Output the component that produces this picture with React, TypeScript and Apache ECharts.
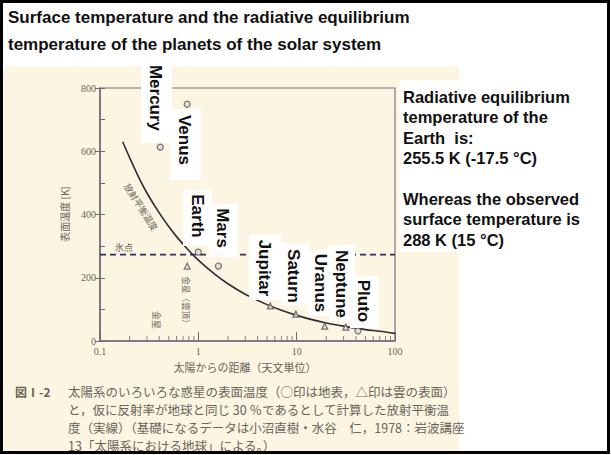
import React, { useEffect, useRef } from "react";
import * as echarts from "echarts";

// ---- data ----
const titleLines = [
  "Surface temperature and the radiative equilibrium",
  "temperature of the planets of the solar system",
];
const noteLines = [
  "Radiative equilibrium",
  "temperature of the",
  "Earth  is:",
  "255.5 K (-17.5 \u00B0C)",
  "",
  "Whereas the observed",
  "surface temperature is",
  "288 K (15 \u00B0C)",
];
const planetNames = ["Mercury", "Venus", "Earth", "Mars", "Jupitar", "Saturn", "Uranus", "Neptune", "Pluto"];

// radiative equilibrium temperature curve (distance AU, K)
const curveDist = [0.17, 0.2, 0.25, 0.3, 0.4, 0.5, 0.6, 0.8, 1, 1.5, 2, 3, 5, 7, 10, 15, 20, 30, 50, 70, 100];
const curveTemp = [630, 580, 515, 468, 405, 362, 330, 286, 256, 209, 181, 148, 115, 97, 81, 66, 57, 47, 36, 31, 24];

// surface temperature (circles)
const surfaceDist = [0.41, 0.77, 1.0, 1.6, 42];
const surfaceTemp = [613, 749, 281, 237, 32];
// cloud top temperature (triangles)
const cloudDist = [0.77, 5.4, 9.8, 19.3, 31.6];
const cloudTemp = [237, 111, 85, 47, 44];

const freezingTemp = 273;
const xRange = [0.1, 100];
const yTicks = [0, 200, 400, 600, 800];
const minorXTicks = [0.2, 0.3, 0.4, 0.5, 0.6, 0.7, 0.8, 0.9, 2, 3, 4, 5, 6, 7, 8, 9, 20, 30, 40, 50, 60, 70, 80, 90];

const yAxisName = "表面温度 [K]";
const xAxisName = "太陽からの距離（天文単位）";
const curveLabel = "放射平衡温度";
const freezeLabel = "氷点";
const venusCloudLabel = "金星（雲頂）";
const venusLabel = "金星";
const figNo = "図Ⅰ-2";
const captionLines = [
  "太陽系のいろいろな惑星の表面温度（○印は地表，△印は雲の表面）",
  "と，仮に反射率が地球と同じ 30 ％であるとして計算した放射平衡温",
  "度（実線）（基礎になるデータは小沼直樹・水谷　仁，1978：岩波講座",
  "13「太陽系における地球」による。）",
];

// ---- layout (not data) ----
const planetLayout = [
  { cx: 155, cy: 98, box: [141, 57, 31, 86] },
  { cx: 184, cy: 140, box: [170, 109, 31, 71] },
  { cx: 197, cy: 216, box: [183, 190, 29, 56] },
  { cx: 222, cy: 228, box: [209, 204, 29, 53] },
  { cx: 264, cy: 268, box: [249, 235, 32, 65] },
  { cx: 293, cy: 276, box: [281, 243, 28, 62] },
  { cx: 320, cy: 283, box: [308, 250, 24, 66] },
  { cx: 341, cy: 284, box: [329, 245, 26, 76] },
  { cx: 363, cy: 301, box: [350, 276, 28, 52] },
];

const SANS = "'Liberation Sans', Arial, sans-serif";
const JP = "'Noto Sans CJK JP', sans-serif";
const SCAN = "#6b645a";

export default function App() {
  const ref = useRef<HTMLDivElement>(null);
  useEffect(() => {
    if (!ref.current) return;
    const chart = echarts.init(ref.current, undefined, { renderer: "svg" });

    const graphic: any[] = [];
    graphic.push({ type: "rect", z: -100, shape: { x: 4, y: 66, width: 455, height: 386 }, style: { fill: "#fbf5e2" } });
    titleLines.forEach((t, i) =>
      graphic.push({ type: "text", z: 100, x: 8, y: 17 + i * 27, style: { text: t, font: `bold 17px ${SANS}`, fill: "#111", verticalAlign: "middle" } })
    );
    graphic.push({ type: "rect", z: 50, shape: { x: 399, y: 80, width: 210, height: 172 }, style: { fill: "#fff" } });
    noteLines.forEach((t, i) => {
      if (!t) return;
      graphic.push({ type: "text", z: 100, x: 403, y: 97 + i * 20.4, style: { text: t, font: `bold 16.5px ${SANS}`, fill: "#111", verticalAlign: "middle" } });
    });
    planetNames.forEach((n, i) => {
      const L = planetLayout[i];
      graphic.push({ type: "rect", z: 50, shape: { x: L.box[0], y: L.box[1], width: L.box[2], height: L.box[3] }, style: { fill: "#fff" } });
      graphic.push({
        type: "text", z: 100, x: L.cx, y: L.cy, rotation: -Math.PI / 2,
        style: { text: n, font: `bold 17px ${SANS}`, fill: "#111", align: "center", verticalAlign: "middle" },
      });
    });
    graphic.push({ type: "text", z: 10, x: 64, y: 214, rotation: Math.PI / 2, style: { text: yAxisName, font: `10px ${JP}`, fill: SCAN, align: "center", verticalAlign: "middle" } });
    graphic.push({ type: "text", z: 10, x: 141, y: 207, rotation: -1.0, style: { text: curveLabel, font: `9px ${JP}`, fill: SCAN, align: "center", verticalAlign: "middle" } });
    graphic.push({ type: "text", z: 10, x: 124, y: 247, style: { text: freezeLabel, font: `9px ${JP}`, fill: SCAN, align: "center", verticalAlign: "middle" } });
    graphic.push({ type: "text", z: 10, x: 187, y: 302, rotation: -Math.PI / 2, style: { text: venusCloudLabel, font: `8.5px ${JP}`, fill: SCAN, align: "center", verticalAlign: "middle" } });
    graphic.push({ type: "text", z: 10, x: 156, y: 320, rotation: -Math.PI / 2, style: { text: venusLabel, font: `9px ${JP}`, fill: SCAN, align: "center", verticalAlign: "middle" } });
    graphic.push({ type: "text", z: 10, x: 245, y: 367, style: { text: xAxisName, font: `11px ${JP}`, fill: SCAN, align: "center", verticalAlign: "middle" } });
    graphic.push({ type: "text", z: 10, x: 15, y: 391, style: { text: figNo, font: `bold 12px ${JP}`, fill: SCAN, verticalAlign: "middle" } });
    captionLines.forEach((t, i) =>
      graphic.push({ type: "text", z: 10, x: 68, y: 391 + i * 18.3, style: { text: t, font: `12.5px ${JP}`, fill: SCAN, verticalAlign: "middle" } })
    );
    graphic.push({ type: "rect", z: 200, shape: { x: 1.5, y: 1.5, width: 607, height: 451 }, style: { fill: "none", stroke: "#000", lineWidth: 3 } });

    const axisColor = "#6c6874";
    const labelStyle = { color: SCAN, fontFamily: "'Liberation Serif', serif", fontSize: 10 };

    chart.setOption({
      animation: false,
      backgroundColor: "#fff",
      grid: { left: 100, right: 216, top: 88, bottom: 114, show: true, borderColor: "#7a7286", borderWidth: 1.2, backgroundColor: "transparent" },
      xAxis: {
        type: "log", logBase: 10, min: xRange[0], max: xRange[1],
        axisLine: { lineStyle: { color: axisColor, width: 1.5 } },
        axisTick: { inside: true, length: 9, lineStyle: { color: axisColor } },
        axisLabel: { ...labelStyle, margin: 5, formatter: (v: number) => String(+Number(v).toPrecision(3)) },
        splitLine: { show: false },
      },
      yAxis: [
        {
          type: "value", min: yTicks[0], max: yTicks[yTicks.length - 1], interval: 200,
          axisLine: { show: true, lineStyle: { color: axisColor, width: 1.5 } },
          axisTick: { show: true, length: 5, lineStyle: { color: axisColor } },
          axisLabel: { ...labelStyle, margin: 4 },
          splitLine: { show: false },
        },
        {
          type: "value", position: "left", min: 0, max: 800, interval: 100,
          axisLine: { show: false }, axisLabel: { show: false }, splitLine: { show: false },
          axisTick: { show: true, inside: true, length: 5, lineStyle: { color: axisColor } },
        },
      ],
      series: [
        {
          type: "line", data: curveDist.map((d, i) => [d, curveTemp[i]]), smooth: 0.3, symbol: "none",
          lineStyle: { color: "#2e2d36", width: 1.6 }, z: 3,
        },
        {
          type: "line", data: [[xRange[0], freezingTemp], [xRange[1], freezingTemp]], symbol: "none",
          lineStyle: { color: "#2c2f58", width: 1.6, type: [6, 4] }, z: 3,
        },
        {
          type: "scatter", data: surfaceDist.map((d, i) => [d, surfaceTemp[i]]), symbol: "circle", symbolSize: 6,
          itemStyle: { color: "#dcd8d0", borderColor: "#55525c", borderWidth: 1.2 }, z: 4,
        },
        {
          type: "scatter", data: cloudDist.map((d, i) => [d, cloudTemp[i]]), symbol: "triangle", symbolSize: 6,
          itemStyle: { color: "#dcd8d0", borderColor: "#55525c", borderWidth: 1.2 }, z: 4,
        },
        {
          type: "scatter", data: minorXTicks.map((d) => [d, 0]), symbol: "rect", symbolSize: [1, 5], symbolOffset: [0, -2.5],
          itemStyle: { color: axisColor }, silent: true, z: 2,
        },
      ],
      graphic,
    });
    return () => chart.dispose();
  }, []);
  return <div ref={ref} style={{ position: "absolute", left: 0, top: 0, width: 611, height: 455 }} />;
}
